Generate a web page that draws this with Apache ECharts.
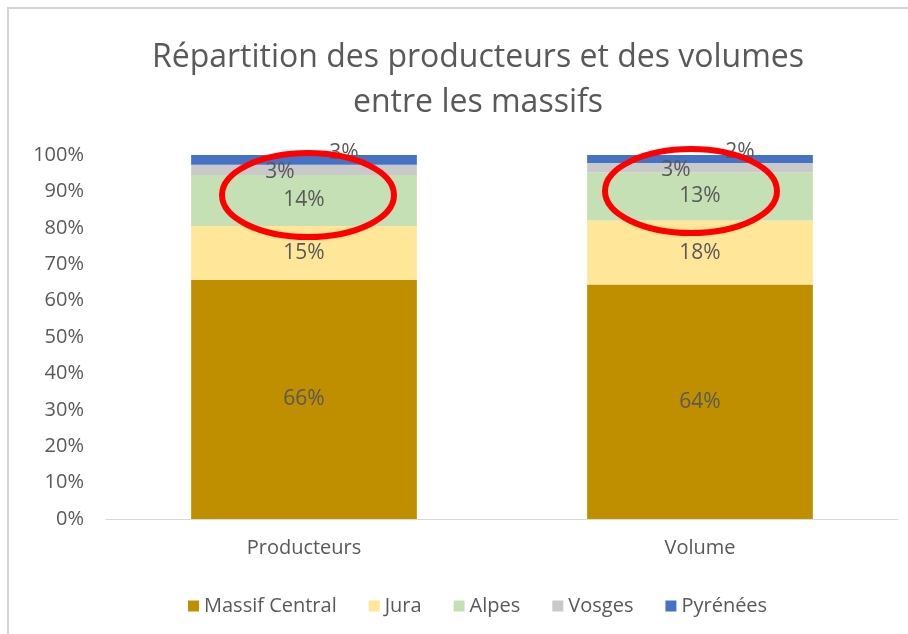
<!DOCTYPE html>
<html>
<head>
<meta charset="utf-8">
<script src="https://cdn.jsdelivr.net/npm/echarts@6/dist/echarts.min.js"></script>
<style>
  html, body { margin: 0; padding: 0; background: #fff; }
  #chart { width: 908px; height: 634px; }
  #frame { position: absolute; left: 7px; top: 7px; right: 0; bottom: 0;
           border-left: 2px solid #d4d4d4; border-top: 2px solid #d4d4d4; pointer-events: none; }
</style>
</head>
<body>
<div id="chart"></div>
<div id="frame"></div>
<script>
// catégories et séries (en %)
var categories = ['Producteurs', 'Volume'];
var massifCentral = [65.7, 64.4];
var jura = [14.8, 17.6];
var alpes = [14.0, 13.2];
var vosges = [2.8, 2.6];
var pyrenees = [2.7, 2.2];
var yTicks = [0, 10, 20, 30, 40, 50, 60, 70, 80, 90, 100];

(function () {
    var myChart = echarts.init(document.getElementById('chart'));
    var font = '"Open Sans", sans-serif';
    var grey = '#595959';

    function serie(name, data, color, offset) {
        return {
            name: name,
            type: 'bar',
            stack: 'total',
            barWidth: '57%',
            data: data,
            itemStyle: { color: color },
            label: {
                show: true,
                position: 'inside',
                offset: offset || [0, 0],
                color: grey,
                fontFamily: font,
                fontSize: 21,
                formatter: function (p) { return Math.round(p.value) + '%'; }
            }
        };
    }

    var option = {
        animation: false,
        title: {
            text: 'Répartition des producteurs et des volumes\nentre les massifs',
            left: 473,
            top: 30,
            textAlign: 'center',
            textStyle: { fontFamily: font, fontSize: 32, fontWeight: 'normal', color: grey, lineHeight: 45 }
        },
        grid: { left: 106, right: 10, top: 155, bottom: 115 },
        legend: {
            left: 183,
            top: 591,
            icon: 'rect',
            itemWidth: 11,
            itemHeight: 11,
            itemGap: 32,
            textStyle: { fontFamily: font, fontSize: 20, color: grey },
            data: ['Massif Central', 'Jura', 'Alpes', 'Vosges', 'Pyrénées']
        },
        xAxis: {
            type: 'category',
            data: categories,
            axisTick: { show: false },
            axisLine: { lineStyle: { color: '#d9d9d9', width: 1 } },
            axisLabel: { color: grey, fontFamily: font, fontSize: 20, margin: 19 }
        },
        yAxis: {
            type: 'value',
            min: yTicks[0],
            max: yTicks[yTicks.length - 1],
            interval: yTicks[1] - yTicks[0],
            splitLine: { show: false },
            axisLine: { show: false },
            axisTick: { show: false },
            axisLabel: { formatter: '{value}%', color: grey, fontFamily: font, fontSize: 20, margin: 22 }
        },
        series: [
            serie('Massif Central', massifCentral, '#BF8F00'),
            serie('Jura', jura, '#FFE699'),
            serie('Alpes', alpes, '#C5E0B4'),
            serie('Vosges', vosges, '#C9C9C9', [-24, 2]),
            serie('Pyrénées', pyrenees, '#4472C4', [40, -7])
        ]
    };

    myChart.setOption(option);

    // ellipses rouges autour du segment Alpes
    var shiftX = [4, -9];
    var ellipses = categories.map(function (c, i) {
        var mid = massifCentral[i] + jura[i] + alpes[i] / 2 + 1.5;
        var pt = myChart.convertToPixel({ seriesIndex: 0 }, [i, mid]);
        return {
            type: 'ellipse',
            shape: { cx: pt[0] + shiftX[i], cy: pt[1], rx: 86, ry: 42 },
            style: { fill: 'none', stroke: '#ff0000', lineWidth: 6 },
            z: 100
        };
    });
    myChart.setOption({ graphic: ellipses });

    window.addEventListener('resize', function () {
        myChart.resize();
    });
})();
</script>
</body>
</html>
